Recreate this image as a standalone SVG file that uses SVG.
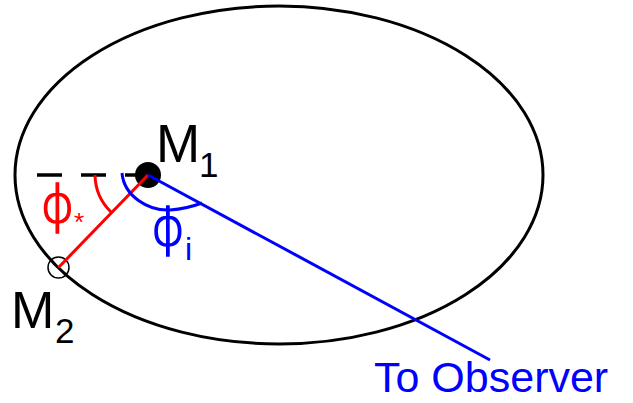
<svg xmlns="http://www.w3.org/2000/svg" width="633" height="403" viewBox="0 0 633 403">
  <style>
    .lbl { font-family: "Liberation Sans", Arial, sans-serif; fill: #000; }
    .phi { font-family: "DejaVu Sans", "Liberation Sans", sans-serif; font-weight: 200; stroke-width: 1.4; }
    .red { stroke: #ff0000; fill: none; stroke-width: 3; }
    .blue { stroke: #0000ff; fill: none; stroke-width: 3; }
  </style>
  <rect width="633" height="403" fill="#fff"/>
  <g id="orbit">
    <ellipse cx="279" cy="175" rx="264" ry="169" fill="none" stroke="#000" stroke-width="3"/>
  </g>
  <g id="M1">
    <circle cx="148" cy="175" r="13" fill="#000"/>
  </g>
  <g id="M2">
    <circle cx="58.5" cy="267.5" r="10.5" fill="none" stroke="#000" stroke-width="1.5"/>
  </g>
  <g id="connectors">
    <line x1="37" y1="175" x2="140" y2="175" stroke="#000" stroke-width="3.5" stroke-dasharray="25 19"/>
    <line class="red" x1="58.5" y1="267.5" x2="148" y2="175"/>
    <line class="blue" x1="148" y1="175" x2="490" y2="360"/>
    <path class="red" d="M95,175 A53,53 0 0 0 111,212"/>
    <path class="blue" d="M122,173 C124,196 148,211 170,210 C184,209 194,206 202,203"/>
  </g>
  <g id="labels">
    <text class="lbl" x="156" y="162" font-size="53">M</text>
    <text class="lbl" x="199" y="177" font-size="35">1</text>
    <text class="lbl" x="11" y="328" font-size="52">M</text>
    <text class="lbl" x="55" y="343" font-size="35">2</text>
    <text class="phi" x="57.5" y="222" font-size="52" fill="#ff0000" stroke="#ff0000" text-anchor="middle">ϕ</text>
    <text class="lbl" x="74" y="231" font-size="26" style="fill:#ff0000">*</text>
    <text class="phi" x="168" y="245" font-size="52" fill="#0000ff" stroke="#0000ff" text-anchor="middle">ϕ</text>
    <text class="lbl" x="185" y="260" font-size="32" style="fill:#0000ff">i</text>
    <text class="lbl" x="374" y="392" font-size="43" style="fill:#0000ff">To Observer</text>
  </g>
</svg>
